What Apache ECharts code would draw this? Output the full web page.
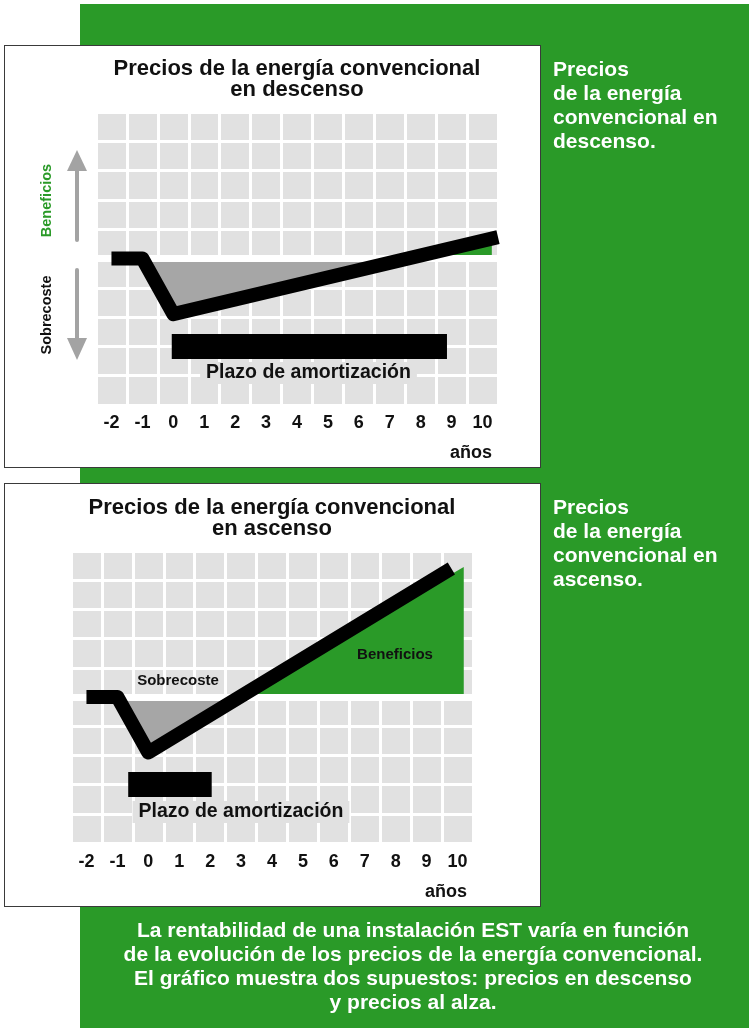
<!DOCTYPE html>
<html>
<head>
<meta charset="utf-8">
<script src="https://cdn.jsdelivr.net/npm/echarts@6/dist/echarts.min.js"></script>
<style>
  html, body { margin: 0; padding: 0; background: #fff; }
  #page { position: relative; width: 749px; height: 1028px; overflow: hidden; }
  .band { position: absolute; left: 80px; top: 4px; width: 669px; height: 1024px; background: #2a9a28; }
  .card { position: absolute; left: 4px; width: 535px; background: #fff; border: 1px solid #3a3a3a; }
  #chart { position: absolute; left: 0; top: 0; width: 749px; height: 1028px; }
</style>
</head>
<body>
<div id="page">
  <div class="band"></div>
  <div class="card" style="top:45px;height:421px;"></div>
  <div class="card" style="top:483px;height:422px;"></div>
  <div id="chart"></div>
</div>
<script>
// Years on the horizontal axis
const years = ['-2', '-1', '0', '1', '2', '3', '4', '5', '6', '7', '8', '9', '10'];

// Scenario 1: conventional energy prices falling
const fallX = [-2, -1, 0, 10.5];
const fallY = [0, 0, -1.9, 0.73];
const fallCostX = [-1, 0, 7.59];
const fallCostY = [0, -1.9, 0];
const fallGainX = [7.59, 10.3, 10.3];
const fallGainY = [0, 0.68, 0];
const fallPayback = [-0.05, 8.85];

// Scenario 2: conventional energy prices rising
const riseX = [-2, -1, 0, 9.8];
const riseY = [0, 0, -1.9, 4.4];
const riseCostX = [-1, 0, 2.96];
const riseCostY = [0, -1.9, 0];
const riseGainX = [2.96, 10.2, 10.2];
const riseGainY = [0, 4.45, 0];
const risePayback = [-0.65, 2.05];

const paybackLevel = -3;

const FONT = "'Liberation Sans', Arial, Helvetica, sans-serif";
const GREEN = '#2a9a28';
const GRID_GRAY = '#e1e1e1';
const FILL_GRAY = '#a6a6a6';
const ARROW_GRAY = '#a3a3a3';

const pts = (xs, ys) => xs.map((x, i) => [x, ys[i]]);

function axesFor(gridIndex, labelMargin) {
  return {
    x: [
      {
        type: 'value', gridIndex, min: -2.5, max: 10.5, interval: 1,
        axisLine: { show: false }, axisTick: { show: false }, axisLabel: { show: false },
        splitLine: { show: true, lineStyle: { color: '#fff', width: 3 } }
      },
      {
        type: 'category', gridIndex, data: years, boundaryGap: true, position: 'bottom',
        axisLine: { show: false }, axisTick: { show: false }, splitLine: { show: false },
        axisLabel: { margin: labelMargin, color: '#111', fontSize: 18, fontWeight: 'bold', fontFamily: FONT, interval: 0 }
      }
    ],
    y: {
      type: 'value', gridIndex, min: -5, max: 5, interval: 1,
      axisLine: { show: false }, axisTick: { show: false }, axisLabel: { show: false },
      splitLine: { show: true, lineStyle: { color: '#fff', width: 3 } }
    }
  };
}

function scenarioSeries(axisIdx, lineX, lineY, costX, costY, gainX, gainY, payback) {
  const common = { xAxisIndex: axisIdx.x, yAxisIndex: axisIdx.y, symbol: 'none', silent: true, animation: false };
  return [
    Object.assign({}, common, {
      type: 'line', z: 2, data: pts(costX, costY),
      lineStyle: { width: 0 }, areaStyle: { color: FILL_GRAY, opacity: 1 }
    }),
    Object.assign({}, common, {
      type: 'line', z: 2, data: pts(gainX, gainY),
      lineStyle: { width: 0 }, areaStyle: { color: GREEN, opacity: 1 },
      markLine: {
        silent: true, symbol: 'none', z: 4, label: { show: false },
        lineStyle: { color: '#fff', width: 7, type: 'solid' },
        data: [{ yAxis: 0 }]
      }
    }),
    Object.assign({}, common, {
      type: 'line', z: 6, clip: false, data: pts(lineX, lineY),
      lineStyle: { color: '#000', width: 14, cap: 'butt', join: 'round' }
    }),
    Object.assign({}, common, {
      type: 'line', z: 6, clip: false,
      data: payback.map(x => [x, paybackLevel]),
      lineStyle: { color: '#000', width: 25, cap: 'butt' }
    })
  ];
}

const fallAxes = axesFor(0, 9);
const riseAxes = axesFor(1, 10);

function arrow(x, yTail, yBase, yTip) {
  return [
    { type: 'line', z: 10, silent: true,
      shape: { x1: x, y1: yTail, x2: x, y2: yBase },
      style: { stroke: ARROW_GRAY, lineWidth: 4, lineCap: 'round' } },
    { type: 'polygon', z: 10, silent: true,
      shape: { points: [[x - 10, yBase], [x + 10, yBase], [x, yTip]] },
      style: { fill: ARROW_GRAY } }
  ];
}

function txt(text, x, y, opts) {
  return {
    type: 'text', z: 10, silent: true, x, y, rotation: opts.rotation || 0,
    style: Object.assign({
      text, fill: '#111', fontFamily: FONT, fontWeight: 'bold', fontSize: 18,
      align: 'center', verticalAlign: 'middle'
    }, opts.style || {})
  };
}

const option = {
  animation: false,
  grid: [
    { left: 96, top: 112, width: 402, height: 293, show: true, backgroundColor: GRID_GRAY, borderWidth: 0 },
    { left: 71, top: 551, width: 402, height: 292, show: true, backgroundColor: GRID_GRAY, borderWidth: 0 }
  ],
  xAxis: [fallAxes.x[0], fallAxes.x[1], riseAxes.x[0], riseAxes.x[1]],
  yAxis: [fallAxes.y, riseAxes.y],
  series: [].concat(
    scenarioSeries({ x: 0, y: 0 }, fallX, fallY, fallCostX, fallCostY, fallGainX, fallGainY, fallPayback),
    scenarioSeries({ x: 2, y: 1 }, riseX, riseY, riseCostX, riseCostY, riseGainX, riseGainY, risePayback)
  ),
  graphic: [].concat(
    // titles
    txt('Precios de la energía convencional\nen descenso', 297, 58,
      { style: { fontSize: 22, lineHeight: 21, verticalAlign: 'top' } }),
    txt('Precios de la energía convencional\nen ascenso', 272, 497,
      { style: { fontSize: 22, lineHeight: 21, verticalAlign: 'top' } }),
    // side captions on the green band
    txt('Precios\nde la energía\nconvencional en\ndescenso.', 553, 58.5,
      { style: { fill: '#fff', fontSize: 21, lineHeight: 24, align: 'left', verticalAlign: 'top' } }),
    txt('Precios\nde la energía\nconvencional en\nascenso.', 553, 496.5,
      { style: { fill: '#fff', fontSize: 21, lineHeight: 24, align: 'left', verticalAlign: 'top' } }),
    // footer
    txt('La rentabilidad de una instalación EST varía en función\nde la evolución de los precios de la energía convencional.\nEl gráfico muestra dos supuestos: precios en descenso\ny precios al alza.', 413, 919,
      { style: { fill: '#fff', fontSize: 21, lineHeight: 24, verticalAlign: 'top' } }),
    // axis unit
    txt('años', 492, 453, { style: { align: 'right' } }),
    txt('años', 467, 892, { style: { align: 'right' } }),
    // payback labels
    txt('Plazo de amortización', 308.5, 373,
      { style: { fontSize: 19.5, backgroundColor: GRID_GRAY, padding: [1, 6] } }),
    txt('Plazo de amortización', 241, 812,
      { style: { fontSize: 19.5, backgroundColor: GRID_GRAY, padding: [1, 6] } }),
    // area labels in the rising scenario
    txt('Sobrecoste', 178, 681, { style: { fontSize: 15 } }),
    txt('Beneficios', 395, 655, { style: { fontSize: 15 } }),
    // vertical side labels with arrows in the falling scenario
    txt('Beneficios', 46.5, 200.5, { rotation: Math.PI / 2, style: { fontSize: 14.5, fill: GREEN } }),
    txt('Sobrecoste', 46.5, 315, { rotation: Math.PI / 2, style: { fontSize: 14.5 } }),
    arrow(77, 240, 171, 150),
    arrow(77, 270, 338, 360)
  )
};

const chart = echarts.init(document.getElementById('chart'), null, { renderer: 'canvas' });
chart.setOption(option);
</script>
</body>
</html>
